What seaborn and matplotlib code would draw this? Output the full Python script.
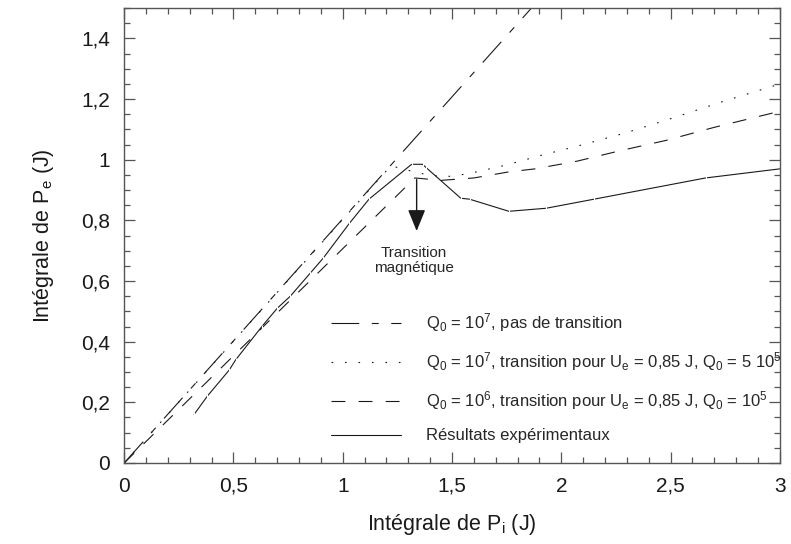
import numpy as np
import pandas as pd
import matplotlib
matplotlib.use('Agg')
import matplotlib.pyplot as plt
import seaborn as sns

# courbes
x_sans = [0.0, 1.863]
y_sans = [0.0, 1.5]

x_q7 = [0.0, 1.22, 1.30, 1.40, 1.50, 1.60, 1.75, 1.91, 2.10, 2.30, 2.52, 2.73, 3.0]
y_q7 = [0.0, 0.98, 0.965, 0.948, 0.945, 0.958, 0.983, 1.015, 1.05, 1.09, 1.14, 1.19, 1.25]

x_q6 = [0.0, 1.33, 1.45, 1.60, 1.76, 1.88, 2.07, 2.27, 2.48, 2.70, 3.0]
y_q6 = [0.0, 0.94, 0.932, 0.94, 0.96, 0.97, 0.995, 1.03, 1.064, 1.107, 1.16]

x_exp = [0.32, 0.38, 0.48, 0.51, 0.63, 0.70, 0.76, 0.85, 0.91, 1.03, 1.12, 1.315, 1.365, 1.38,
         1.54, 1.58, 1.76, 1.93, 2.15, 2.66, 3.0]
y_exp = [0.16, 0.22, 0.306, 0.34, 0.45, 0.51, 0.55, 0.625, 0.675, 0.79, 0.87, 0.985, 0.985, 0.975,
         0.873, 0.87, 0.83, 0.84, 0.87, 0.94, 0.97]

labels = [r'Q$_0$ = 10$^7$, pas de transition',
          r'Q$_0$ = 10$^7$, transition pour U$_e$ = 0,85 J, Q$_0$ = 5 10$^5$',
          r'Q$_0$ = 10$^6$, transition pour U$_e$ = 0,85 J, Q$_0$ = 10$^5$',
          'Résultats expérimentaux']

xticks = [0, 0.5, 1, 1.5, 2, 2.5, 3]
xticklabels = ['0', '0,5', '1', '1,5', '2', '2,5', '3']
yticks = [0, 0.2, 0.4, 0.6, 0.8, 1.0, 1.2, 1.4]
yticklabels = ['0', '0,2', '0,4', '0,6', '0,8', '1', '1,2', '1,4']

sns.set_theme(style='ticks')
plt.rcParams['font.family'] = ['Liberation Sans', 'DejaVu Sans']
plt.rcParams['mathtext.fontset'] = 'custom'
plt.rcParams['mathtext.rm'] = 'Liberation Sans'
plt.rcParams['mathtext.it'] = 'Liberation Sans'
plt.rcParams['lines.scale_dashes'] = False

fig = plt.figure(figsize=(7.91, 5.44), dpi=100)
ax = fig.add_axes([0.157, 0.149, 0.829, 0.836])

lw = 0.8
sns.lineplot(x=x_sans, y=y_sans, ax=ax, color='k', lw=lw, estimator=None, sort=False,
             linestyle=(0, (20, 9, 5, 9)), label=labels[0])
sns.lineplot(x=x_q7, y=y_q7, ax=ax, color='k', lw=lw, estimator=None, sort=False,
             linestyle=(0, (1.2, 8.5)), label=labels[1])
sns.lineplot(x=x_q6, y=y_q6, ax=ax, color='k', lw=lw, estimator=None, sort=False,
             linestyle=(0, (10, 9.5)), label=labels[2])
sns.lineplot(x=x_exp, y=y_exp, ax=ax, color='k', lw=lw, estimator=None, sort=False,
             marker='|', markersize=3, markeredgewidth=0.8, label=labels[3])

ax.set_xlim(0, 3)
ax.set_ylim(0, 1.5)
ax.set_xticks(xticks)
ax.set_xticklabels(xticklabels)
ax.set_yticks(yticks)
ax.set_yticklabels(yticklabels)
ax.set_xticks(np.arange(0, 3.001, 0.1), minor=True)
ax.set_yticks(np.arange(0, 1.501, 0.05), minor=True)
ax.tick_params(which='both', direction='in', top=True, right=True, color='#555555',
               labelsize=15, labelcolor='k', pad=10)
ax.tick_params(which='major', length=8, width=0.9)
ax.tick_params(which='minor', length=4, width=0.9)
for s in ax.spines.values():
    s.set_color('#555555')
    s.set_linewidth(1.0)

ax.set_xlabel(r'Intégrale de P$_i$ (J)', fontsize=15.5, color='k', labelpad=12)
ax.set_ylabel(r'Intégrale de P$_e$ (J)', fontsize=15.5, color='k', labelpad=18)

ax.annotate('', xy=(1.338, 0.765), xytext=(1.338, 0.935),
            arrowprops=dict(arrowstyle='-|>,head_length=1.1,head_width=0.45', color='k', lw=1.0,
                            shrinkA=0, shrinkB=0))
ax.text(1.325, 0.668, 'Transition\nmagnétique', ha='center', va='center', fontsize=11,
        linespacing=1.1)

leg = ax.legend(loc='lower left', bbox_to_anchor=(0.293, 0.01), frameon=False, fontsize=12,
                handlelength=4.2, handletextpad=1.5, labelspacing=0.97)
for h in leg.get_lines():
    h.set_marker('')

fig.savefig('out.png', dpi=100)
